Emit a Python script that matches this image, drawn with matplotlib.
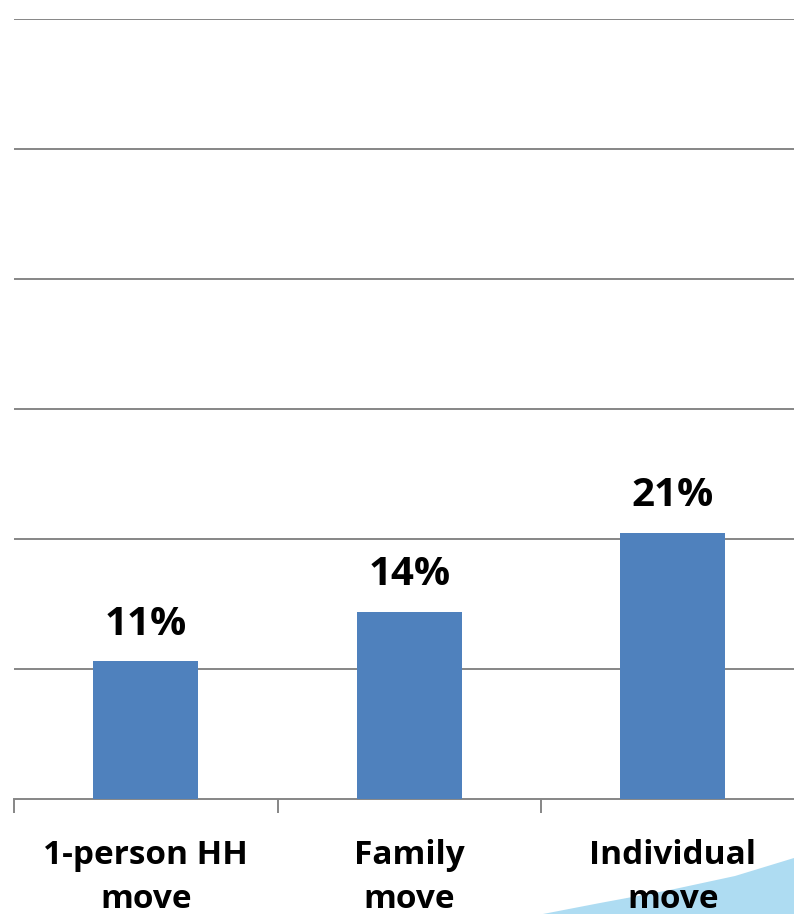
import matplotlib.pyplot as plt
from matplotlib.patches import Polygon

# data
categories = ["1-person HH\nmove", "Family\nmove", "Individual\nmove"]
shares = [0.106, 0.144, 0.205]
share_labels = ["11%", "14%", "21%"]

plt.rcParams['font.family'] = ['Open Sans', 'DejaVu Sans']

fig = plt.figure(figsize=(7.94, 9.14), dpi=100)
# axes run a little past the right edge of the picture, like the source
ax = fig.add_axes([14 / 794, 115 / 914, 790.5 / 794, 780 / 914])
ax.patch.set_visible(False)

x = range(len(categories))
ax.bar(x, shares, width=0.4, color="#4F81BD", zorder=3)

for i, lab in enumerate(share_labels):
    ax.text(i, shares[i] + 0.0135, lab, ha="center", va="bottom",
            fontsize=29, fontweight="bold", color="black")

ax.set_ylim(0, 0.6)
ax.set_xlim(-0.5, 2.5)
ax.set_yticks([0.1, 0.2, 0.3, 0.4, 0.5, 0.6])
ax.yaxis.grid(True, color="#868686", linewidth=1.4, zorder=0)
ax.tick_params(axis="y", length=0, labelleft=False)

# category labels centred, tick marks on the boundaries
ax.set_xticks([-0.5, 0.5, 1.5, 2.5])
ax.set_xticklabels([])
ax.tick_params(axis="x", length=10, width=1.4, color="#868686")
for i, c in enumerate(categories):
    ax.text(i, -0.0305, c, ha="center", va="top", fontsize=24,
            fontweight="bold", linespacing=1.47, zorder=5)

for s in ["top", "right", "left"]:
    ax.spines[s].set_visible(False)
ax.spines["bottom"].set_color("#868686")
ax.spines["bottom"].set_linewidth(1.4)

# light blue swoosh in the bottom right corner, behind everything
swoosh = Polygon([[543 / 794, 0], [600 / 794, 11 / 914], [670 / 794, 24 / 914],
                  [735 / 794, 38 / 914], [1.0, 56 / 914], [1.0, 0]],
                 closed=True, transform=fig.transFigure, facecolor="#AEDCF2",
                 edgecolor="none", zorder=-5)
fig.patches.append(swoosh)
ax.set_zorder(1)

fig.savefig("out.png", dpi=100)
